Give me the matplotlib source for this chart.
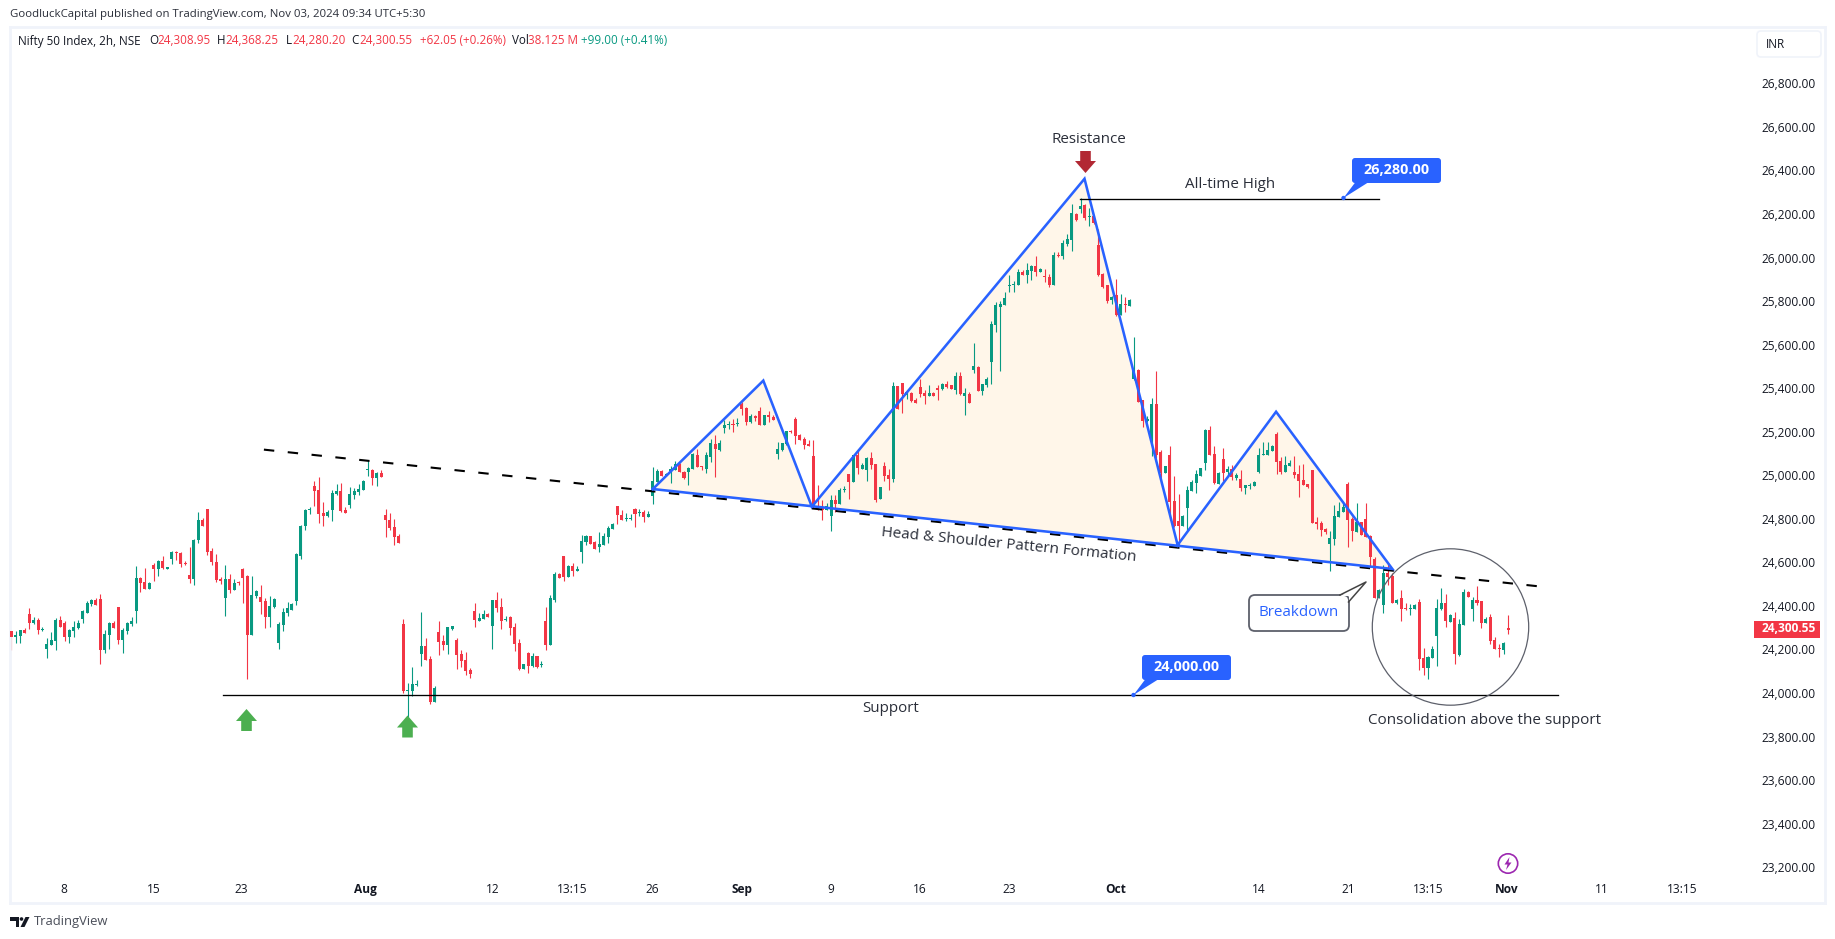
import matplotlib
matplotlib.use("Agg")
import numpy as np
import matplotlib.pyplot as plt
import matplotlib.patches as mpatches
from matplotlib.transforms import ScaledTranslation

opens = [24295,24266,24272,24298,24372,24331,24344,24300,24213,24231,
    24249,24344,24329,24268,24294,24308,24349,24378,24418,24436,
    24441,24208,24275,24331,24404,24253,24294,24326,24386,24537,
    24519,24487,24599,24579,24615,24580,24625,24657,24652,24606,
    24551,24533,24712,24804,24854,24661,24611,24533,24445,24533,
    24482,24519,24579,24546,24275,24455,24450,24432,24358,24404,
    24239,24321,24377,24390,24432,24638,24776,24850,24960,24941,
    24836,24822,24850,24923,24937,24850,24873,24918,24932,24941,
    25033,25033,24997,25020,24827,24804,24772,24730,24326,24018,
    24018,24046,24188,24225,24165,23968,24289,24248,24230,24303,
    24253,24188,24161,24115,24386,24340,24349,24372,24317,24436,
    24404,24344,24358,24312,24239,24119,24193,24133,24179,24136,
    24340,24230,24436,24556,24638,24542,24592,24569,24657,24703,
    24730,24703,24680,24689,24726,24762,24868,24827,24808,24808,
    24854,24836,24840,24817,24914,24978,25029,25010,25029,25033,
    25061,25024,25024,25038,25102,25052,25038,25093,25153,25126,
    25227,25242,25246,25245,25337,25318,25254,25282,25305,25240,
    25286,25277,25107,25126,25153,25213,25268,25195,25176,25153,
    25098,24868,24864,24850,24822,24896,24878,24942,25015,24979,
    25103,25038,25034,25089,25061,24901,25052,25011,24992,25420,
    25433,25378,25387,25355,25415,25387,25374,25387,25410,25406,
    25429,25424,25401,25465,25373,25383,25493,25507,25396,25424,
    25530,25699,25782,25791,25879,25883,25883,25943,25929,25947,
    25970,25943,25925,25920,25883,26021,26016,26071,26090,26209,
    26232,26251,26195,26200,26067,25934,25883,25814,25837,25745,
    25796,25787,25451,25493,25355,25258,25171,25337,25116,25018,
    25101,24891,24799,24776,24859,24937,24974,25006,25066,25217,
    25107,24969,25084,25024,25038,24997,24992,24951,24960,24960,
    25024,25102,25102,25121,25199,25075,25024,25052,25024,25015,
    24988,24969,25034,24795,24790,24763,24694,24717,24818,24841,
    24969,24808,24749,24795,24808,24730,24625,24446,24413,24560,
    24547,24423,24446,24400,24395,24395,24427,24170,24124,24170,
    24271,24395,24423,24335,24354,24184,24322,24473,24395,24437,
    24432,24331,24358,24253,24216,24207,24308.95]
highs = [24295,24295,24298,24306,24400,24358,24354,24312,24260,24289,
    24354,24363,24338,24303,24340,24344,24390,24432,24441,24445,
    24464,24298,24335,24340,24404,24308,24335,24358,24592,24542,
    24583,24519,24606,24620,24638,24588,24661,24661,24657,24615,
    24680,24716,24840,24813,24854,24675,24648,24542,24597,24556,
    24533,24524,24583,24551,24546,24482,24505,24445,24455,24445,
    24335,24400,24427,24422,24652,24781,24854,24863,24983,25001,
    24886,24850,24941,24969,24974,24863,24955,24951,24969,24987,
    25079,25038,25024,25033,24854,24836,24808,24739,24349,24055,
    24129,24069,24381,24262,24179,24041,24340,24275,24312,24317,
    24262,24207,24197,24124,24422,24377,24390,24377,24436,24473,
    24445,24363,24363,24331,24257,24142,24197,24193,24179,24156,
    24404,24459,24565,24560,24638,24597,24606,24592,24735,24735,
    24730,24707,24749,24744,24776,24790,24868,24850,24836,24831,
    24859,24854,24850,24845,25047,25038,25033,25020,25052,25075,
    25065,25029,25047,25111,25130,25052,25118,25176,25195,25172,
    25263,25259,25268,25273,25346,25323,25291,25286,25323,25286,
    25305,25286,25162,25158,25213,25219,25277,25199,25185,25172,
    25172,24965,24896,24881,24919,24919,24953,24960,25015,25103,
    25130,25066,25093,25116,25061,24956,25070,25038,25438,25420,
    25433,25397,25392,25364,25452,25401,25424,25392,25424,25433,
    25442,25424,25484,25484,25410,25392,25617,25510,25428,25461,
    25718,25805,25810,25851,25929,25902,25957,25952,25984,25975,
    26016,25961,25957,25934,26035,26035,26090,26117,26255,26214,
    26283,26255,26237,26200,26140,25938,25883,25833,25911,25842,
    25828,25819,25644,25497,25355,25281,25364,25488,25125,25050,
    25144,25006,24923,24827,24960,24988,25033,25042,25222,25236,
    25144,25024,25134,25052,25056,25018,25034,24965,24974,24983,
    25135,25162,25162,25148,25208,25093,25098,25079,25098,25057,
    25061,24969,25034,24818,24799,24767,24753,24873,24887,24882,
    24978,24818,24882,24795,24882,24735,24634,24487,24597,24602,
    24560,24441,24482,24423,24418,24418,24441,24216,24179,24225,
    24441,24492,24464,24372,24381,24349,24487,24478,24450,24501,
    24432,24358,24372,24267,24234,24244,24368.25]
lows = [24207,24240,24240,24286,24303,24326,24282,24294,24171,24231,
    24208,24312,24249,24240,24266,24303,24331,24378,24410,24413,
    24144,24194,24213,24308,24236,24194,24282,24317,24332,24473,
    24487,24487,24524,24546,24579,24580,24602,24620,24588,24595,
    24514,24505,24698,24776,24643,24597,24519,24510,24363,24468,
    24482,24505,24422,24073,24275,24445,24372,24308,24312,24400,
    24211,24294,24363,24390,24413,24625,24758,24831,24868,24790,
    24776,24817,24799,24918,24840,24836,24859,24900,24918,24941,
    25006,24964,24960,25001,24726,24758,24689,24698,24009,23885,
    23995,24041,24133,24161,23959,23968,24184,24207,24188,24298,
    24119,24130,24092,24078,24312,24340,24349,24358,24211,24381,
    24303,24340,24275,24202,24115,24119,24101,24129,24124,24129,
    24207,24230,24427,24537,24524,24542,24546,24569,24606,24689,
    24693,24670,24657,24689,24698,24762,24785,24804,24799,24804,
    24772,24822,24794,24817,24877,24978,25006,25006,24974,25033,
    25024,24992,24964,25038,25047,25033,25020,25072,25002,25121,
    25204,25222,25208,25236,25286,25240,25250,25259,25240,25240,
    25254,25263,25084,25121,25149,25204,25153,25172,25130,25144,
    24861,24850,24804,24850,24755,24841,24878,24933,24901,24979,
    25015,25038,24983,25038,24887,24901,24983,24942,24979,25314,
    25296,25360,25346,25341,25369,25337,25374,25374,25355,25401,
    25410,25406,25383,25378,25286,25341,25479,25396,25378,25415,
    25428,25667,25488,25791,25851,25851,25883,25929,25892,25906,
    25924,25943,25897,25874,25883,26012,26003,26062,26039,26177,
    26214,26182,26154,26163,25924,25869,25800,25796,25741,25745,
    25759,25787,25447,25346,25231,25254,25098,25087,24969,25018,
    24804,24773,24689,24776,24758,24937,24928,25006,25033,25102,
    24969,24969,24983,25010,24988,24988,24937,24923,24946,24960,
    25020,25102,25102,25121,25015,25015,25024,25052,24997,24910,
    24965,24951,24790,24763,24730,24740,24570,24689,24818,24841,
    24680,24707,24749,24735,24726,24588,24446,24446,24377,24505,
    24423,24418,24340,24391,24368,24395,24115,24092,24074,24170,
    24133,24391,24312,24335,24142,24179,24322,24450,24340,24413,
    24308,24331,24234,24211,24175,24188,24280.2]
closes = [24268,24275,24298,24286,24331,24344,24300,24305,24234,24253,
    24344,24312,24268,24298,24312,24331,24386,24422,24436,24413,
    24208,24280,24331,24308,24253,24298,24331,24340,24537,24514,
    24487,24514,24579,24615,24583,24588,24657,24652,24602,24602,
    24533,24712,24804,24776,24657,24611,24528,24524,24533,24482,
    24514,24514,24537,24275,24459,24478,24427,24358,24409,24441,
    24326,24381,24400,24418,24648,24776,24850,24854,24937,24831,
    24822,24840,24928,24937,24845,24836,24923,24937,24946,24983,
    25038,24997,25020,25001,24804,24767,24726,24698,24018,24023,
    24050,24050,24225,24161,23968,24032,24243,24230,24312,24317,
    24184,24156,24110,24096,24344,24354,24372,24358,24436,24400,
    24340,24349,24308,24234,24119,24142,24133,24179,24129,24142,
    24230,24445,24556,24537,24542,24592,24569,24579,24707,24730,
    24693,24670,24693,24730,24767,24785,24827,24804,24813,24813,
    24831,24840,24817,24831,24983,25029,25006,25015,25038,25061,
    25024,24997,25043,25107,25047,25047,25103,25158,25130,25158,
    25240,25246,25242,25250,25314,25254,25282,25273,25240,25286,
    25277,25263,25130,25158,25213,25210,25190,25172,25149,25144,
    24865,24864,24850,24868,24896,24878,24942,24946,24979,25103,
    25043,25057,25089,25057,24896,24956,25006,24992,25420,25314,
    25383,25392,25351,25341,25383,25374,25387,25374,25401,25429,
    25415,25406,25466,25383,25386,25341,25510,25396,25428,25451,
    25704,25791,25796,25823,25883,25888,25943,25929,25952,25970,
    25943,25957,25920,25883,26021,26016,26076,26094,26214,26182,
    26246,26191,26200,26168,25929,25874,25810,25828,25745,25796,
    25791,25814,25493,25346,25258,25268,25337,25101,25018,25050,
    24887,24776,24776,24822,24942,24978,25015,25042,25217,25102,
    24974,25020,25020,25038,25001,25011,24951,24965,24965,24978,
    25102,25107,25125,25144,25070,25024,25057,25066,25011,24983,
    24965,24955,24790,24786,24758,24749,24721,24822,24845,24864,
    24804,24753,24795,24735,24726,24634,24446,24482,24560,24542,
    24423,24436,24395,24395,24400,24413,24165,24124,24175,24211,
    24400,24423,24340,24368,24188,24326,24473,24450,24437,24423,
    24331,24349,24248,24211,24211,24239,24300.55]

price_ticks = list(range(23200, 26801, 200))
time_ticks = [11.7, 32, 51.6, 79.6, 108, 126, 143.8, 164, 184, 204, 224, 248, 280, 300, 318, 335.7, 357, 375]
time_labels = ['8', '15', '23', 'Aug', '12', '13:15', '26', 'Sep', '9', '16', '23', 'Oct',
               '14', '21', '13:15', 'Nov', '11', '13:15']

# head and shoulders drawing, candle index / price
pattern_x = [144.0, 168.8, 179.7, 240.9, 261.8, 283.9, 310.0]
pattern_y = [24946, 25444, 24865, 26371, 24689, 25301, 24579]
trend_x = [56.7, 343.8]
trend_y = [25127, 24497]
support_x = [47.6, 347.1]
support_price = 24000
high_x = [239.9, 307.0]
high_price = 26280

W, H = 1835, 939
RED = '#F23645'
GREEN = '#089981'
BLUE = '#2962FF'
DARK = '#131722'
FONT = 'Open Sans'
plt.rcParams['font.family'] = [FONT, 'DejaVu Sans']

fig = plt.figure(figsize=(W / 100, H / 100), dpi=100, facecolor='white')
ax = fig.add_axes([10 / W, 1 - 903 / H, 1815 / W, 876 / H])
ax.set_xlim((10 - 11.3) / 4.455, (1825 - 11.3) / 4.455)
ax.set_ylim(24000 - 208 * 4.593, 24000 + 668 * 4.593)

idx = np.arange(len(closes))
o = np.array(opens)
c = np.array(closes)
colors = [GREEN if b >= a else RED for a, b in zip(opens, closes)]
body = np.maximum(np.abs(c - o), 3)

ax.fill(pattern_x, pattern_y, color='#FFF6E9', lw=0, zorder=1)
ax.vlines(idx, lows, highs, colors=colors, lw=0.8, zorder=2)
ax.bar(idx, body, bottom=np.minimum(o, c), width=0.68, color=colors, lw=0, zorder=3)

ax.plot(trend_x, trend_y, color='black', lw=1.5, dashes=(5, 6.5), zorder=4)
ax.plot(pattern_x + pattern_x[:1], pattern_y + pattern_y[:1], color=BLUE, lw=1.85, zorder=5,
        solid_joinstyle='miter')
ax.plot(support_x, [support_price] * 2, color='black', lw=0.95, zorder=5)
ax.plot(high_x, [high_price] * 2, color='black', lw=0.95, zorder=5)

ax.set_yticks(price_ticks)
ax.set_yticklabels(['{:,.2f}'.format(p) for p in price_ticks])
ax.yaxis.tick_right()
ax.tick_params(axis='y', length=0, pad=-45.5, labelsize=8.6, labelcolor=DARK)
up = ScaledTranslation(0, 2 / 100, fig.dpi_scale_trans)
for lab in ax.get_yticklabels():
    lab.set_transform(lab.get_transform() + up)
ax.set_xticks(time_ticks)
ax.set_xticklabels(time_labels)
ax.tick_params(axis='x', length=0, pad=-14.5, labelsize=8.6, labelcolor=DARK)
for lab in ax.get_xticklabels():
    if lab.get_text() in ('Aug', 'Sep', 'Oct', 'Nov'):
        lab.set_fontweight('bold')
for s in ax.spines.values():
    s.set_color('#F0F3FA')
    s.set_linewidth(2)

# overlay in picture pixels for the TradingView chrome and callouts
ov = fig.add_axes([0, 0, 1, 1], zorder=10)
ov.set_xlim(0, W)
ov.set_ylim(H, 0)
ov.axis('off')


def label(x, y, s, size=10, color=DARK, ha='center', **kw):
    ov.text(x, y, s, fontsize=size, color=color, ha=ha, va='center', **kw)


def arrow(cx, top, color, down=False):
    # block arrow, 21 px wide and 22 px tall
    ys = [0, 12, 12, 22, 22, 12, 12]
    if down:
        ys = [22 - v for v in ys]
    xs = [0, 10.5, 5.3, 5.3, -5.3, -5.3, -10.5]
    ov.fill([cx + v for v in xs], [top + v for v in ys], color=color, lw=0)


def callout(x0, y0, x1, y1, tip, s):
    ov.add_patch(mpatches.FancyBboxPatch((x0 + 2, y0 + 2), x1 - x0 - 4, y1 - y0 - 4,
                                         boxstyle='round,pad=2,rounding_size=3', fc=BLUE, ec=BLUE, lw=0))
    ov.fill([tip[0], x0 + 5, x0 + 20], [tip[1], y1 - 3, y1 - 3], color=BLUE, lw=0)
    ov.add_patch(mpatches.Circle(tip, 2.2, fc=BLUE, ec='none'))
    label((x0 + x1) / 2, (y0 + y1) / 2 - 0.5, s, size=10.4, color='white', fontweight='bold')


# header
label(10, 15, 'GoodluckCapital published on TradingView.com, Nov 03, 2024 09:34 UTC+5:30', size=8.2, ha='left', color='#2A2E39')
for x, s, col in [(18, 'Nifty 50 Index, 2h, NSE', DARK), (149.5, 'O', DARK), (157.6, '24,308.95', RED),
                  (217, 'H', DARK), (225.4, '24,368.25', RED), (285.7, 'L', DARK), (292.4, '24,280.20', RED),
                  (351, 'C', DARK), (359, '24,300.55', RED), (419.6, '+62.05 (+0.26%)', RED),
                  (511.6, 'Vol', DARK), (527.7, '38.125 M', RED), (581, '+99.00 (+0.41%)', GREEN)]:
    label(x, 41, s, size=8.4, ha='left', color=col)

# currency box and last price
ov.add_patch(mpatches.FancyBboxPatch((1759, 33), 60, 22, boxstyle='round,pad=2,rounding_size=4',
                                     fc='white', ec='#F0F3FA', lw=1.2))
label(1766, 44.5, 'INR', size=8.4, ha='left')
ov.add_patch(mpatches.Rectangle((1754, 621), 66, 17, fc=RED, ec='none'))
label(1762, 629, '24,300.55', size=8.6, ha='left', color='white', fontweight='bold')

# annotations
arrow(1085.5, 151, '#B22833', down=True)
arrow(246.5, 709, '#4CAF50')
arrow(407.5, 715.5, '#4CAF50')
label(1089, 139.5, 'Resistance', size=10.9, color='#2A2E39')
label(1230, 184.5, 'All-time High', size=10.9, color='#2A2E39')
label(891, 708, 'Support', size=10.9, color='#2A2E39')
label(1485, 720, 'Consolidation above the support', size=11, color='#2A2E39')
label(1009, 545.5, 'Head & Shoulder Pattern Formation', size=11, color='#2A2E39', rotation=-5.6,
      rotation_mode='anchor')
callout(1352, 158, 1441, 183, (1343.5, 198), '26,280.00')
callout(1142, 655, 1231, 680, (1133.5, 695), '24,000.00')

# breakdown bubble
ov.add_patch(mpatches.FancyBboxPatch((1254, 600), 90, 26, boxstyle='round,pad=5,rounding_size=6',
                                     fc='white', ec='#5D606B', lw=1.3))
ov.fill([1340, 1366, 1349, 1349], [596, 582, 602, 596], fc='white', ec='none')
ov.plot([1340, 1366, 1348.5], [595, 582, 602], color='#444444', lw=1.1)
label(1298.5, 612, 'Breakdown', size=10.9, color=BLUE)

ov.add_patch(mpatches.Circle((1450.5, 627), 78.2, fc='none', ec='#5D606B', lw=0.9))

# flash marker
ov.add_patch(mpatches.Circle((1508, 863.5), 9.7, fc='white', ec='#9C27B0', lw=1.2))
ov.fill([1509.5, 1504.5, 1507.5, 1506, 1511.5, 1508.5], [857, 864.5, 864.5, 870, 862.5, 862.5],
        color='#9C27B0', lw=0)

# logo and footer
ov.fill([10, 19, 19, 15.5, 15.5, 10], [917, 917, 927, 927, 920.5, 920.5], color=DARK, lw=0)
ov.add_patch(mpatches.Circle((21.5, 919), 1.8, fc=DARK, ec='none'))
ov.fill([25.5, 29.5, 24.5, 20.5], [917, 917, 927, 927], color=DARK, lw=0)
label(33.5, 921.5, 'TradingView', size=9.4, ha='left', color='#4A4E59')

fig.savefig('out.png', dpi=100)
